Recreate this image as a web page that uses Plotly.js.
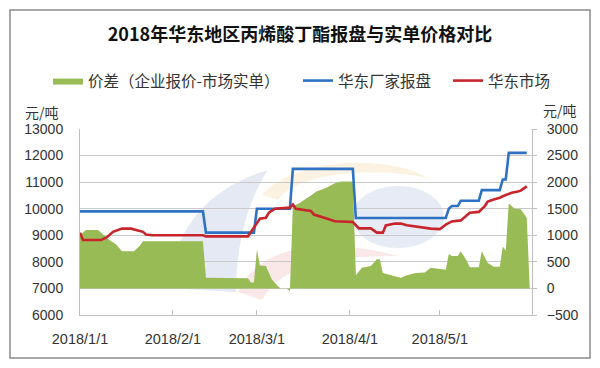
<!DOCTYPE html>
<html>
<head>
<meta charset="utf-8">
<script src="https://cdn.plot.ly/plotly-3.0.1.min.js"></script>
<style>
  html, body { margin: 0; padding: 0; background: #ffffff; }
  #chart { width: 600px; height: 368px; }
</style>
</head>
<body>
<div id="chart"></div>
<script>
// ---- Data ----
const titleText = '2018年华东地区丙烯酸丁酯报盘与实单价格对比';
const seriesNames = ['价差（企业报价-市场实单）', '华东厂家报盘', '华东市场'];

// 华东厂家报盘 (left axis, 元/吨)
const quoteDates = ['2018-01-01','2018-02-11','2018-02-12','2018-02-28','2018-03-01','2018-03-12','2018-03-13',
  '2018-04-02','2018-04-03','2018-05-03','2018-05-04','2018-05-05','2018-05-07','2018-05-08','2018-05-14',
  '2018-05-15','2018-05-21','2018-05-22','2018-05-23','2018-05-24','2018-05-30'];
const quoteValues = [9900,9900,9100,9100,10000,10000,11500,
  11500,9650,9650,10000,10100,10100,10300,10300,
  10700,10700,11100,11100,12100,12100];

// 华东市场 (left axis, 元/吨)
const marketDates = ['2018-01-01','2018-01-02','2018-01-08','2018-01-10','2018-01-12','2018-01-15','2018-01-18',
  '2018-01-22','2018-01-23','2018-01-25','2018-02-11','2018-02-12','2018-02-26','2018-02-27','2018-03-02',
  '2018-03-04','2018-03-05','2018-03-07','2018-03-12','2018-03-13','2018-03-14','2018-03-19','2018-03-20',
  '2018-03-24','2018-03-27','2018-04-02','2018-04-04','2018-04-08','2018-04-10','2018-04-12','2018-04-13',
  '2018-04-16','2018-04-18','2018-04-20','2018-04-23','2018-04-28','2018-05-01','2018-05-03','2018-05-05',
  '2018-05-08','2018-05-11','2018-05-14','2018-05-16','2018-05-17','2018-05-19','2018-05-21','2018-05-22',
  '2018-05-25','2018-05-27','2018-05-28','2018-05-30'];
const marketValues = [9100,8820,8820,8930,9130,9250,9250,
  9130,9030,9000,9000,8960,8960,9120,9620,
  9660,9850,10000,10040,10160,10000,9920,9780,
  9640,9530,9500,9260,9260,9100,9100,9370,
  9440,9440,9380,9330,9250,9230,9400,9520,
  9560,9850,9880,10100,10270,10350,10410,10470,
  10600,10650,10680,10840];

// 价差 (right axis, 元/吨)
const spreadDates = ['2018-01-01','2018-01-03','2018-01-07','2018-01-09','2018-01-11','2018-01-13','2018-01-15',
  '2018-01-19','2018-01-21','2018-01-22','2018-02-11','2018-02-12','2018-02-26','2018-02-27','2018-02-28',
  '2018-03-01','2018-03-02','2018-03-04','2018-03-06','2018-03-08','2018-03-09','2018-03-11','2018-03-12',
  '2018-03-13','2018-03-15','2018-03-19','2018-03-21','2018-03-24','2018-03-27','2018-03-29','2018-04-02',
  '2018-04-03','2018-04-05','2018-04-08','2018-04-10','2018-04-11','2018-04-12','2018-04-16','2018-04-18',
  '2018-04-20','2018-04-23','2018-04-26','2018-04-28','2018-05-03','2018-05-04','2018-05-05','2018-05-07',
  '2018-05-08','2018-05-10','2018-05-11','2018-05-14','2018-05-15','2018-05-17','2018-05-19','2018-05-21',
  '2018-05-22','2018-05-23','2018-05-24','2018-05-26','2018-05-28','2018-05-30','2018-05-31'];
const spreadValues = [1000,1100,1100,1000,900,830,700,
  700,810,890,890,200,190,110,110,
  730,430,420,170,40,0,0,-60,
  1550,1600,1750,1830,1890,1980,2010,2010,
  250,390,420,550,550,290,230,200,
  250,290,300,390,350,650,610,610,
  700,520,400,400,700,480,410,410,
  790,710,1600,1500,1490,1330,0];

const xTickVals = ['2018-01-01','2018-02-01','2018-03-01','2018-04-01','2018-05-01'];
const xTickText = ['2018/1/1','2018/2/1','2018/3/1','2018/4/1','2018/5/1'];

// ---- Chart ----
const cjk = 'Noto Sans CJK SC, sans-serif';
const num = 'Liberation Sans, Arial, sans-serif';

const traces = [
  {
    x: spreadDates, y: spreadValues, name: seriesNames[0], type: 'scatter', mode: 'lines',
    fill: 'tozeroy', fillcolor: '#98bb55', line: {width: 0, color: '#98bb55'},
    xaxis: 'x', yaxis: 'y', legend: 'legend', hoverinfo: 'skip'
  },
  {
    x: quoteDates, y: quoteValues, name: seriesNames[1], type: 'scatter', mode: 'lines',
    line: {width: 2.6, color: '#2f72c4'}, xaxis: 'x', yaxis: 'y2', legend: 'legend2'
  },
  {
    x: marketDates, y: marketValues, name: seriesNames[2], type: 'scatter', mode: 'lines',
    line: {width: 2.6, color: '#c8242b'}, xaxis: 'x', yaxis: 'y2', legend: 'legend3'
  }
];

const L = 80, R = 532, T = 129, B = 315;
const W = R - L, H = B - T;
const px = v => (v - L) / W;
const py = v => (B - v) / H;

// decorative faint watermark (pixel-space path converted to paper space)
function wm(cmds, color) {
  const d = cmds.map(c => {
    if (typeof c === 'string') return c;
    return px(c[0]).toFixed(4) + ',' + py(c[1]).toFixed(4);
  }).join(' ');
  return {type: 'path', xref: 'paper', yref: 'paper', path: d, fillcolor: color,
          line: {width: 0}, layer: 'below'};
}

const legendCommon = {
  orientation: 'h', yanchor: 'middle', xanchor: 'left',
  font: {family: cjk, size: 15.5, color: '#333'},
  bgcolor: 'rgba(0,0,0,0)', borderwidth: 0
};

const layout = {
  width: 600, height: 368,
  margin: {l: L, r: 600 - R, t: T, b: 368 - B, pad: 0},
  paper_bgcolor: '#ffffff', plot_bgcolor: 'rgba(0,0,0,0)',
  title: {
    text: '<b>' + titleText + '</b>',
    font: {family: cjk, size: 18, color: '#111'},
    x: 0.5, xref: 'container', xanchor: 'center',
    y: 1 - 35 / 368, yref: 'container', yanchor: 'middle'
  },
  xaxis: {
    type: 'date', range: ['2018-01-01', '2018-05-31 18:00'],
    tickmode: 'array', tickvals: xTickVals, ticktext: xTickText,
    ticks: 'inside', ticklen: 5, tickcolor: '#bfbfbf', tickwidth: 1,
    showline: true, linecolor: '#bfbfbf', linewidth: 1,
    showgrid: false, zeroline: false, ticklabelstandoff: 11,
    tickfont: {family: num, size: 14.5, color: '#333'}
  },
  yaxis: {
    side: 'right', range: [-500, 3000], tick0: -500, dtick: 500, tickformat: 'd',
    showgrid: true, gridcolor: '#c9c9c9', gridwidth: 1, zeroline: false,
    showline: true, linecolor: '#bfbfbf', linewidth: 1,
    ticks: 'outside', ticklen: 4, tickcolor: '#bfbfbf', ticklabelstandoff: 7,
    tickfont: {family: num, size: 14, color: '#333'}
  },
  yaxis2: {
    overlaying: 'y', side: 'left', range: [6000, 13000], tick0: 6000, dtick: 1000, tickformat: 'd',
    showgrid: false, zeroline: false,
    showline: true, linecolor: '#bfbfbf', linewidth: 1,
    ticks: '', ticklabelstandoff: 13,
    tickfont: {family: num, size: 14, color: '#333'}
  },
  legend: Object.assign({}, legendCommon, {x: px(48), y: py(81)}),
  legend2: Object.assign({}, legendCommon, {x: px(298), y: py(81)}),
  legend3: Object.assign({}, legendCommon, {x: px(448), y: py(81)}),
  annotations: [
    {text: '元/吨', xref: 'paper', yref: 'paper', x: px(42), y: py(112), showarrow: false,
     xanchor: 'center', yanchor: 'middle', font: {family: cjk, size: 14, color: '#333'}},
    {text: '元/吨', xref: 'paper', yref: 'paper', x: px(560), y: py(110), showarrow: false,
     xanchor: 'center', yanchor: 'middle', font: {family: cjk, size: 14, color: '#333'}}
  ],
  shapes: [
    {type: 'rect', xref: 'paper', yref: 'paper', x0: px(10), x1: px(590), y0: py(358), y1: py(10),
     line: {color: '#8c8c8c', width: 1.5}, fillcolor: 'rgba(0,0,0,0)', layer: 'below'},
    // watermark: left blue blade
    wm(['M', [170, 288], 'C', [172, 225], [215, 185], [268, 170], 'C', [248, 200], [236, 245], [236, 292], 'Z'], 'rgba(205,215,235,0.55)'),
    // watermark: yellow arc
    wm(['M', [262, 195], 'C', [290, 160], [385, 152], [428, 178], 'C', [380, 168], [300, 170], [278, 200], 'Z'], 'rgba(250,230,195,0.5)'),
    // watermark: pink arc
    wm(['M', [238, 292], 'C', [258, 245], [325, 236], [398, 256], 'C', [330, 256], [282, 264], [262, 300], 'Z'], 'rgba(245,210,210,0.5)'),
    // watermark: right blue oval
    {type: 'circle', xref: 'paper', yref: 'paper', x0: px(352), x1: px(444), y0: py(248), y1: py(186),
     fillcolor: 'rgba(210,218,236,0.55)', line: {width: 0}, layer: 'below'}
  ],
  showlegend: true
};

Plotly.newPlot('chart', traces, layout, {displayModeBar: false, staticPlot: true});
</script>
</body>
</html>
